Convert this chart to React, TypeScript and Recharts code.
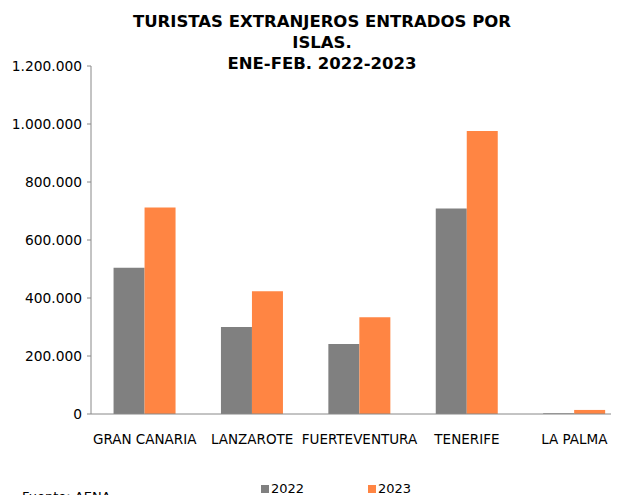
import React from 'react';
import { BarChart, Bar, XAxis, YAxis } from 'recharts';

const categories = ['GRAN CANARIA', 'LANZAROTE', 'FUERTEVENTURA', 'TENERIFE', 'LA PALMA'];
const values2022 = [504000, 300000, 241000, 709000, 2500];
const values2023 = [712000, 423000, 334000, 976000, 14000];
const yTicks = [0, 200000, 400000, 600000, 800000, 1000000, 1200000];
const seriesNames = ['2022', '2023'];
const seriesColors = ['#808080', '#FF8543'];
const titleLines = ['TURISTAS EXTRANJEROS ENTRADOS POR', 'ISLAS.', 'ENE-FEB. 2022-2023'];
const source = 'Fuente: AENA';

const data = categories.map((c, i) => ({ name: c, idx: i, v2022: values2022[i], v2023: values2023[i] }));

const fmt = (n: number) => String(n).replace(/\B(?=(\d{3})+(?!\d))/g, '.');

const FONT = '"DejaVu Sans", Verdana, sans-serif';

export default function App() {
  return (
    <div style={{ position: 'relative', width: 619, height: 495, marginLeft: -8, marginTop: -8, overflow: 'hidden', background: '#fff', fontFamily: FONT }}>
      <div style={{ position: 'absolute', left: 0, width: 644, top: 11, textAlign: 'center', fontWeight: 'bold', fontSize: 16.5, lineHeight: '21px', color: '#000' }}>
        {titleLines.map((t) => (
          <div key={t}>{t}</div>
        ))}
      </div>
      <BarChart
        width={640}
        height={495}
        data={data}
        margin={{ top: 66, right: 12, left: 0, bottom: 51 }}
        barCategoryGap="21%"
        barGap={0}
      >
        <XAxis
          xAxisId="grid"
          type="number"
          domain={[0, 5]}
          ticks={[1, 2, 3, 4]}
          tick={false}
          axisLine={false}
          tickLine={{ stroke: '#888' }}
          tickSize={5}
          height={0}
        />
        <XAxis
          dataKey="name"
          xAxisId="cat"
          height={30}
          tickLine={false}
          axisLine={{ stroke: '#888' }}
          tickMargin={14}
          tick={{ fill: '#000', fontSize: 13.5, fontFamily: FONT }}
          interval={0}
        />
        <YAxis
          width={91}
          domain={[0, 1200000]}
          ticks={yTicks}
          tickFormatter={fmt}
          axisLine={{ stroke: '#888' }}
          tickLine={{ stroke: '#888' }}
          tickSize={4}
          tickMargin={5}
          tick={{ fill: '#000', fontSize: 13.8, fontFamily: FONT }}
          interval={0}
        />
        <Bar xAxisId="cat" dataKey="v2022" name={seriesNames[0]} fill={seriesColors[0]} isAnimationActive={false} />
        <Bar xAxisId="cat" dataKey="v2023" name={seriesNames[1]} fill={seriesColors[1]} isAnimationActive={false} />
      </BarChart>
      {seriesNames.map((s, i) => (
        <div key={s} style={{ position: 'absolute', left: 261 + i * 107, top: 481, display: 'flex', alignItems: 'center', fontSize: 13, color: '#000' }}>
          <span style={{ display: 'inline-block', width: 8, height: 8, background: seriesColors[i], marginRight: 2 }} />
          <span>{s}</span>
        </div>
      ))}
      <div style={{ position: 'absolute', left: 22, top: 489, fontSize: 13, color: '#000' }}>{source}</div>
    </div>
  );
}
